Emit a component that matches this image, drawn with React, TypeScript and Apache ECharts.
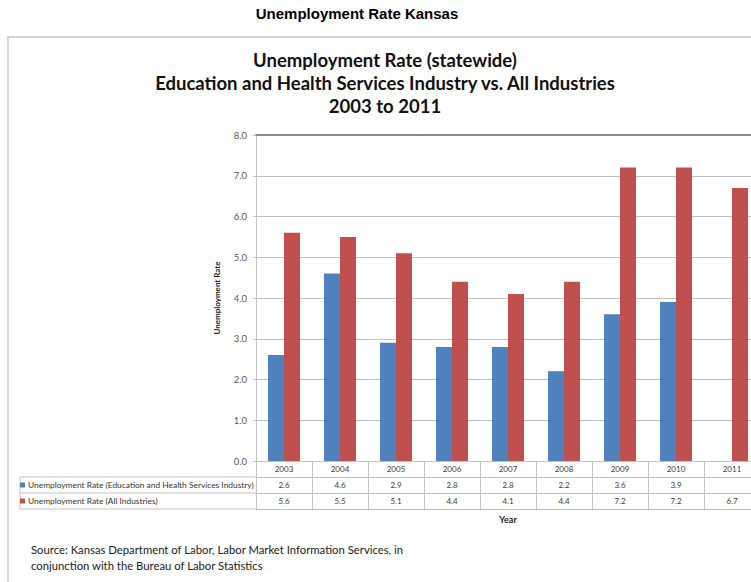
import React, { useEffect, useRef } from "react";
import * as echarts from "echarts";

const years = ["2003", "2004", "2005", "2006", "2007", "2008", "2009", "2010", "2011"];
const eduHealth: (number | null)[] = [2.6, 4.6, 2.9, 2.8, 2.8, 2.2, 3.6, 3.9, null];
const allIndustries: (number | null)[] = [5.6, 5.5, 5.1, 4.4, 4.1, 4.4, 7.2, 7.2, 6.7];
const seriesNames = [
  "Unemployment Rate (Education and Health Services Industry)",
  "Unemployment Rate (All Industries)",
];
const titleLines = [
  "Unemployment Rate (statewide)",
  "Education and Health Services Industry vs. All Industries",
  "2003 to 2011",
];
const pageTitle = "Unemployment Rate Kansas";
const sourceLines = [
  "Source: Kansas Department of Labor, Labor Market Information Services, in",
  "conjunction with the Bureau of Labor Statistics",
];
const yMin = 0;
const yMax = 8;
const yInterval = 1;

const FONT = "Lato, 'Open Sans', sans-serif";
const LINE = "#c3c3c3";
const BLUE = "#4f81bd";
const RED = "#c0504d";

const fmt = (v: number | null) => (v == null ? "" : v.toFixed(1));

function tableAxis(offset: number, labelFn: (i: number) => string) {
  return {
    type: "category",
    data: years,
    gridIndex: 0,
    position: "bottom",
    offset,
    boundaryGap: true,
    axisLine: { show: true, lineStyle: { color: LINE, width: 1 } },
    axisTick: { show: true, interval: 0, length: 16, lineStyle: { color: LINE } },
    axisLabel: {
      show: true,
      interval: 0,
      margin: 4,
      fontSize: 8,
      fontFamily: FONT,
      color: "#404040",
      formatter: (_v: string, i: number) => labelFn(i),
    },
    splitLine: { show: false },
  };
}

export default function App() {
  const ref = useRef<HTMLDivElement>(null);
  useEffect(() => {
    if (!ref.current) return;
    const chart = echarts.init(ref.current, undefined, { renderer: "svg" });
    const legendBase = {
      orient: "vertical",
      left: 20,
      itemWidth: 5,
      itemHeight: 5,
      icon: "rect",
      padding: 0,
      itemGap: 0,
      textStyle: { fontSize: 8.4, fontFamily: FONT, color: "#333", padding: [0, 0, 0, -2] },
    };
    chart.setOption({
      animation: false,
      backgroundColor: "#fff",
      grid: { left: 256, top: 135, width: 504, height: 326, containLabel: false },
      legend: [
        { ...legendBase, top: 481, data: [seriesNames[0]] },
        { ...legendBase, top: 497, data: [seriesNames[1]] },
      ],
      xAxis: [
        tableAxis(0, (i) => years[i]),
        tableAxis(16, (i) => fmt(eduHealth[i])),
        tableAxis(32, (i) => fmt(allIndustries[i])),
        {
          type: "category",
          data: years,
          position: "bottom",
          offset: 48,
          axisLine: { show: true, lineStyle: { color: LINE } },
          axisTick: { show: false },
          axisLabel: { show: false },
          name: "Year",
          nameLocation: "middle",
          nameGap: 6,
          nameTextStyle: { fontSize: 9, fontWeight: "bold", fontFamily: FONT, color: "#222", verticalAlign: "top" },
        },
        {
          type: "category",
          data: years,
          position: "top",
          axisLine: { show: true, lineStyle: { color: "#8a8a8a", width: 2 } },
          axisTick: { show: false },
          axisLabel: { show: false },
        },
      ],
      yAxis: {
        type: "value",
        min: yMin,
        max: yMax,
        interval: yInterval,
        axisLine: { show: true, lineStyle: { color: LINE } },
        axisTick: { show: true, length: 3, lineStyle: { color: LINE } },
        axisLabel: {
          formatter: (v: number) => v.toFixed(1),
          fontSize: 9.5,
          fontFamily: FONT,
          color: "#595959",
          margin: 9,
        },
        splitLine: { show: true, lineStyle: { color: LINE } },
        name: "Unemployment Rate",
        nameLocation: "middle",
        nameRotate: 90,
        nameGap: 35,
        nameTextStyle: { fontSize: 8, fontWeight: "bold", fontFamily: FONT, color: "#222" },
      },
      series: [
        {
          name: seriesNames[0],
          type: "bar",
          data: eduHealth,
          barWidth: 16,
          barGap: "0%",
          itemStyle: { color: BLUE },
          xAxisIndex: 0,
          yAxisIndex: 0,
        },
        {
          name: seriesNames[1],
          type: "bar",
          data: allIndustries,
          barWidth: 16,
          barGap: "0%",
          itemStyle: { color: RED },
          xAxisIndex: 0,
          yAxisIndex: 0,
        },
      ],
      graphic: [
        {
          type: "rect",
          silent: true,
          z: -10,
          shape: { x: 8, y: 37, width: 900, height: 700 },
          style: { fill: "none", stroke: "#d6d6d6", lineWidth: 2 },
        },
        {
          type: "text",
          x: 357,
          y: 13,
          style: {
            text: pageTitle,
            font: "bold 15px 'Liberation Sans', Arial, sans-serif",
            fill: "#000",
            textAlign: "center",
            textVerticalAlign: "middle",
          },
        },
        ...titleLines.map((t, i) => ({
          type: "text",
          x: 385,
          y: 60 + i * 23,
          style: {
            text: t,
            font: `bold 18.5px ${FONT}`,
            fill: "#111",
            textAlign: "center",
            textVerticalAlign: "middle",
          },
        })),
        ...[477, 493, 509].map((y) => ({
          type: "line",
          silent: true,
          shape: { x1: 20, y1: y, x2: 256, y2: y },
          style: { stroke: LINE, lineWidth: 1 },
        })),
        {
          type: "line",
          silent: true,
          shape: { x1: 20, y1: 477, x2: 20, y2: 509 },
          style: { stroke: LINE, lineWidth: 1 },
        },
        ...sourceLines.map((t, i) => ({
          type: "text",
          x: 31,
          y: 549 + i * 16,
          style: {
            text: t,
            font: `11.3px ${FONT}`,
            fill: "#222",
            textAlign: "left",
            textVerticalAlign: "middle",
          },
        })),
      ],
    });
    return () => chart.dispose();
  }, []);
  return (
    <div style={{ position: "absolute", left: 0, top: 0, width: 751, height: 582, overflow: "hidden", background: "#fff" }}>
      <div ref={ref} style={{ width: 780, height: 582 }} />
    </div>
  );
}
